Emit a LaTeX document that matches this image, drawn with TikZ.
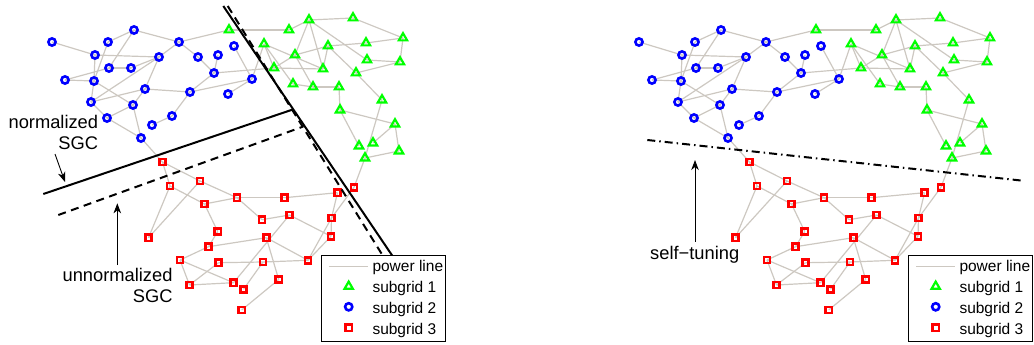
\documentclass[tikz,border=0pt]{standalone}
\usepackage{fontspec}
\setmainfont{Liberation Sans}
\usetikzlibrary{arrows.meta,shapes.geometric}
\definecolor{edgecol}{RGB}{205,200,193}
\definecolor{mgreen}{RGB}{0,255,0}
\definecolor{mblue}{RGB}{0,0,255}
\definecolor{mred}{RGB}{255,0,0}
\tikzset{
  edge/.style={draw=edgecol,line width=1.2pt},
  bmark/.style={circle,draw=mblue,line width=2.6pt,minimum size=7.2pt,inner sep=0pt},
  gmark/.style={regular polygon,regular polygon sides=3,draw=mgreen,line width=2.2pt,minimum size=9.6pt,inner sep=0pt},
  rmark/.style={rectangle,draw=mred,line width=2.6pt,minimum size=6.2pt,inner sep=0pt},
  cutsolid/.style={line width=2pt,black},
  cutdash/.style={line width=2pt,black,dash pattern=on 8pt off 5.5pt},
  cutdashdot/.style={line width=2pt,black,dash pattern=on 8pt off 4pt on 1.5pt off 4pt},
  pointer/.style={line width=0.9pt,black,-{Stealth[length=10pt,width=7.5pt,inset=3pt]}},
  annot/.style={font=\fontsize{18.3}{22}\selectfont,inner sep=0pt},
  legtext/.style={font=\fontsize{15.5}{18}\selectfont,inner sep=0pt,anchor=base west},
  legbox/.style={draw=black,fill=white,line width=1pt,minimum width=124pt,minimum height=86.5pt,anchor=north west,inner sep=0pt},
}
\newcommand\gridgraph[1]{%
  \foreach \n/\x/\y in {b1/52/42,b2/134/30,b3/108/42,b4/179/42,b5/95/55,b6/159/57,b7/198/57,b8/218/55,
    b9/109/68,b10/131/68,b11/65/80,b12/94/81,b13/145/89,b14/190/92,b15/91/102,b16/133/105,b17/107/118,
    b18/172/116,b19/152/125,b20/141/138,b21/214/73,b22/234/46,b23/252/79,b24/228/94,
    g1/229/30,g2/289/30,g3/309/20,g4/353/18,g5/403/38,g6/264/44,g7/328/46,g8/366/43,g9/295/55,
    g10/367/60,g11/400/62,g12/274/68,g13/323/69,g14/356/73,g15/293/84,g16/313/87,g17/339/87,
    g18/382/100,g19/340/110,g20/395/124,g21/359/146,g22/373/143,g23/399/151,g24/365/158,
    r1/162.5/162,r2/170/186,r3/200/181,r4/204.5/204,r5/148.5/237.7,r6/217.7/231.5,r7/208.5/246.7,
    r8/180/260,r9/218.5/262.7,r10/189.5/285,r11/237/197.7,r12/284.5/197.7,r13/337.5/192.7,
    r14/354/187.3,r15/262/219.7,r16/289.5/215,r17/331.5/218,r18/266.3/237.7,r19/331/236.3,
    r20/263/262,r21/308/260.3,r22/233.5/282.7,r23/243.5/289.3,r24/278.7/279.5,r25/241.7/310}
    {\coordinate (#1\n) at (\x,\y);}
  \foreach \a/\b in {b1/b5,b2/b3,b2/b4,b2/b9,b3/b12,b5/b6,b5/b12,b4/b6,b4/b7,b4/g1,b7/b21,b8/b21,
    b11/b9,b11/b12,b9/b10,b10/b6,b6/b15,b6/b13,b12/b15,b12/b16,b15/b13,b13/b14,b14/b21,b14/b23,
    b15/b17,b16/b17,b16/b20,b17/b20,b13/b16,b18/b19,b18/b14,b20/r1,b22/b23,b23/g6,b23/b24,b21/g12,
    g1/g2,g2/g3,g3/g4,g4/g5,g5/g11,g5/g8,g8/g7,g3/g9,g3/g13,g3/g10,g10/g11,g11/g14,g7/g13,g7/g9,
    g7/g14,g9/g12,g9/g16,g6/g13,g6/g12,g6/g15,g12/g13,g15/g16,g16/g17,g17/g19,g19/g20,g19/g21,
    g18/g24,g20/g22,g20/g23,g23/g24,g14/g18,g24/r14,
    r1/r2,r1/r3,r2/r5,r3/r5,r2/r4,r3/r11,r4/r11,r4/r6,r11/r12,r11/r15,r12/r13,r15/r16,r16/r19,
    r16/r22,r13/r17,r14/r17,r17/r19,r17/r21,r19/r21,r6/r7,r7/r8,r7/r18,r8/r10,r8/r22,r10/r9,
    r10/r22,r9/r20,r20/r21,r20/r23,r18/r21,r18/r24,r24/r25}
    {\draw[edge] (#1\a) -- (#1\b);}
  \foreach \i in {1,...,24} {\node[bmark] (#1mb\i) at (#1b\i) {};}
  \foreach \i in {1,...,24} {\node[gmark] (#1mg\i) at (#1g\i) {};}
  \foreach \i in {1,...,25} {\node[rmark] (#1mr\i) at (#1r\i) {};}
}
\newcommand\gridlegend[1]{%
  \node[legbox] (#1box) at (321,254.5) {};
  \coordinate (#1la) at (329,266.7);
  \coordinate (#1lb) at (368,266.7);
  \draw[edge] (#1la) -- (#1lb);
  \node[gmark] (#1lg) at (348.7,286.4) {};
  \node[bmark] (#1lbm) at (348.7,306.8) {};
  \node[rmark] (#1lr) at (348.7,327.8) {};
  \node[legtext] (#1t0) at (372.3,271.7) {power line};
  \node[legtext] (#1t1) at (372.3,292.7) {subgrid 1};
  \node[legtext] (#1t2) at (372.3,313.3) {subgrid 2};
  \node[legtext] (#1t3) at (372.3,334.3) {subgrid 3};
}
\begin{document}
\begin{tikzpicture}[x=1pt,y=-1pt]
  \useasboundingbox (0,0) rectangle (1034,345);
  % left panel
  \begin{scope}
    \gridgraph{L}
  \end{scope}
  \coordinate (s1a) at (43.3,194);
  \coordinate (s1b) at (293.4,109.3);
  \coordinate (s2a) at (223.3,6);
  \coordinate (s2b) at (392.5,256);
  \coordinate (d1a) at (58.3,215);
  \coordinate (d1b) at (302,127);
  \coordinate (d2a) at (227.7,6);
  \coordinate (d2b) at (383,256);
  \draw[cutsolid] (s1a) -- (s1b);
  \draw[cutsolid] (s2a) -- (s2b);
  \draw[cutdash] (d1a) -- (d1b);
  \draw[cutdash] (d2a) -- (d2b);
  \begin{scope}
    \gridlegend{L}
  \end{scope}
  \node[annot,anchor=base east] (tn1) at (98.3,128.3) {normalized};
  \node[annot,anchor=base east] (tn2) at (98.3,149) {SGC};
  \node[annot,anchor=base east] (tu1) at (172.7,281.7) {unnormalized};
  \node[annot,anchor=base east] (tu2) at (172.7,302.3) {SGC};
  \coordinate (a1s) at (55,154);
  \coordinate (a1e) at (65,182);
  \draw[pointer] (a1s) -- (a1e);
  \coordinate (a2s) at (117.3,265);
  \coordinate (a2e) at (117.3,203.3);
  \draw[pointer] (a2s) -- (a2e);
  % right panel
  \begin{scope}[shift={(587,0)}]
    \gridgraph{R}
  \end{scope}
  \coordinate (c1a) at (647.3,140);
  \coordinate (c1b) at (1022.7,180.7);
  \draw[cutdashdot] (c1a) -- (c1b);
  \begin{scope}[shift={(587,0)}]
    \gridlegend{R}
  \end{scope}
  \node[annot,anchor=base west] (ts) at (650,259.3) {self−tuning};
  \coordinate (a3s) at (695,241.7);
  \coordinate (a3e) at (695,160);
  \draw[pointer] (a3s) -- (a3e);
\end{tikzpicture}
\end{document}
